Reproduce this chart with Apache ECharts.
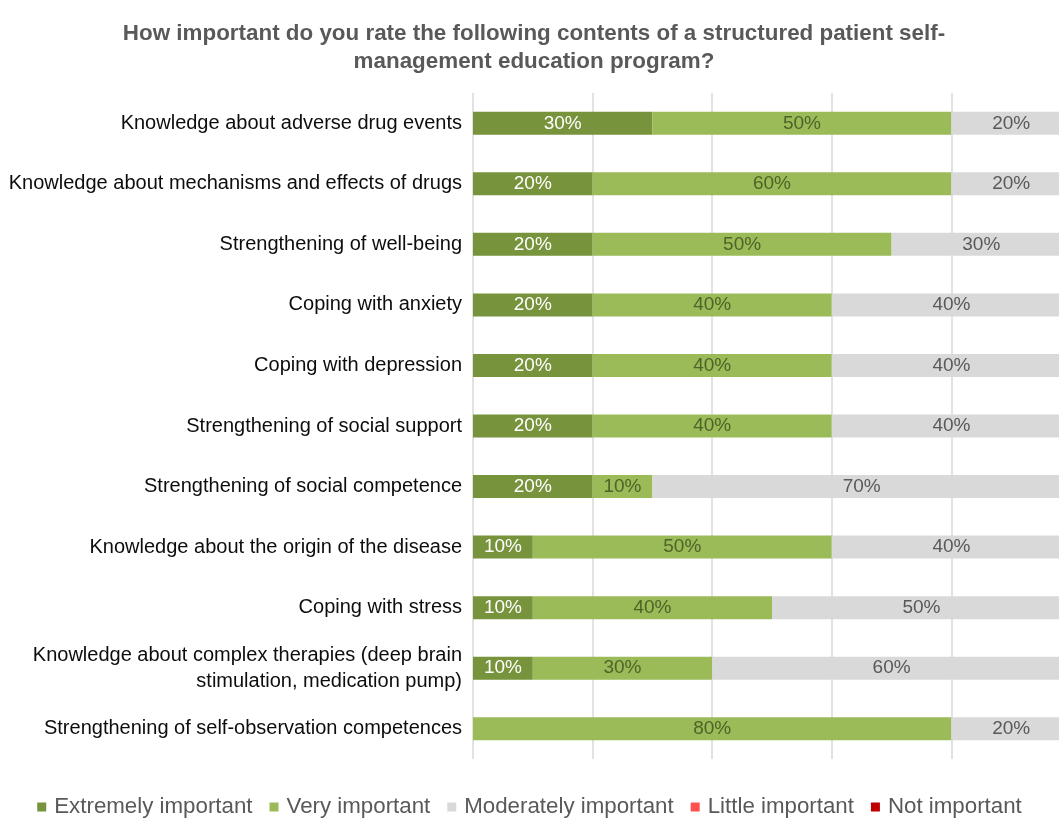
<!DOCTYPE html>
<html>
<head>
<meta charset="utf-8">
<script src="https://cdn.jsdelivr.net/npm/echarts@6/dist/echarts.min.js"></script>
<style>
  html, body { margin: 0; padding: 0; background: #fff; }
  #chart { width: 1059px; height: 818px; }
</style>
</head>
<body>
<div id="chart"></div>
<script>
const categories = [
  'Knowledge about adverse drug events',
  'Knowledge about mechanisms and effects of drugs',
  'Strengthening of well-being',
  'Coping with anxiety',
  'Coping with depression',
  'Strengthening of social support',
  'Strengthening of social competence',
  'Knowledge about the origin of the disease',
  'Coping with stress',
  'Knowledge about complex therapies (deep brain\nstimulation, medication pump)',
  'Strengthening of self-observation competences'
]

// percentages per answer, same order as categories
const extremely = [30, 20, 20, 20, 20, 20, 20, 10, 10, 10, 0]
const very = [50, 60, 50, 40, 40, 40, 10, 50, 40, 30, 80]
const moderately = [20, 20, 30, 40, 40, 40, 70, 40, 50, 60, 20]
const little = [0, 0, 0, 0, 0, 0, 0, 0, 0, 0, 0]
const notImportant = [0, 0, 0, 0, 0, 0, 0, 0, 0, 0, 0]

const seriesNames = ['Extremely important', 'Very important', 'Moderately important', 'Little important', 'Not important']
const seriesData = [extremely, very, moderately, little, notImportant]
const colors = ['#77933c', '#9bbb59', '#d9d9d9', '#ff5050', '#c00000']
const labelColors = ['#ffffff', '#4f6228', '#595959', '#ffffff', '#ffffff']

const chart = echarts.init(document.getElementById('chart'))

const option = {
  animation: false,
  textStyle: { fontFamily: 'Liberation Sans, Arial, sans-serif' },
  title: {
    text: 'How important do you rate the following contents of a structured patient self-\nmanagement education program?',
    left: 529,
    top: 15,
    textAlign: 'center',
    textStyle: {
      fontSize: 22.4,
      fontWeight: 'bold',
      color: '#595959',
      lineHeight: 28
    }
  },
  legend: {
    top: 791,
    left: 'center',
    icon: 'rect',
    itemWidth: 9,
    itemHeight: 9,
    itemGap: 17,
    data: seriesNames,
    textStyle: { fontSize: 22.3, color: '#595959', padding: [0, 0, 0, 3] }
  },
  grid: {
    left: 473,
    top: 93,
    width: 598,
    height: 666,
    outerBoundsMode: 'none',
    containLabel: false
  },
  xAxis: {
    type: 'value',
    min: 0,
    max: 100,
    interval: 20,
    axisLabel: { show: false },
    axisLine: { show: false },
    axisTick: { show: false },
    splitLine: { lineStyle: { color: '#d9d9d9', width: 1.5 } }
  },
  yAxis: {
    type: 'category',
    inverse: true,
    data: categories,
    axisLine: { show: false },
    axisTick: { show: false },
    axisLabel: {
      margin: 11,
      fontSize: 20,
      color: '#0d0d0d',
      lineHeight: 26
    }
  },
  series: seriesData.map((d, i) => ({
    name: seriesNames[i],
    type: 'bar',
    stack: 'total',
    barWidth: 23,
    data: d,
    itemStyle: { color: colors[i] },
    label: {
      show: true,
      position: 'inside',
      fontSize: 19,
      color: labelColors[i],
      formatter: p => (p.value > 0 ? p.value + '%' : '')
    }
  }))
}

chart.setOption(option)
</script>
</body>
</html>
